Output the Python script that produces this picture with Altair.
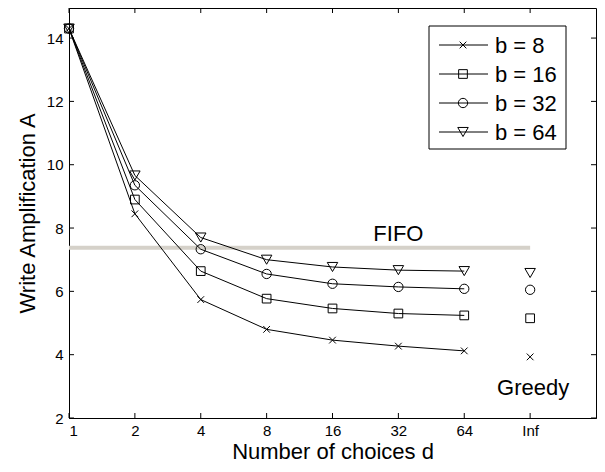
import json
import altair as alt
import pandas as pd

# ---- data ----
choices = ["1", "2", "4", "8", "16", "32", "64", "Inf"]
series_names = ["b = 8", "b = 16", "b = 32", "b = 64"]
b8 = [14.3, 8.45, 5.74, 4.80, 4.46, 4.27, 4.12, 3.93]
b16 = [14.3, 8.90, 6.64, 5.77, 5.46, 5.30, 5.24, 5.15]
b32 = [14.3, 9.35, 7.33, 6.55, 6.24, 6.14, 6.08, 6.05]
b64 = [14.3, 9.66, 7.70, 7.00, 6.77, 6.67, 6.64, 6.58]
all_series = [b8, b16, b32, b64]
fifo_level = 7.38
greedy_label_y = 2.72
y_ticks = [2, 4, 6, 8, 10, 12, 14]

FONT = "Liberation Sans"
W, H = 527, 410
cross_path = "M-1,-1L1,1M-1,1L1,-1"
shapes = [cross_path, "square", "circle", "triangle-down"]
sizes = [45, 76, 87, 110]

xs = alt.Scale(domain=[0, 8], nice=False, zero=False)
ys = alt.Scale(domain=[2, 14.95], nice=False, zero=False)
label_expr = json.dumps(choices) + "[datum.value]"
x_axis = alt.Axis(values=list(range(len(choices))), labelExpr=label_expr,
                  ticks=False, grid=False, labelPadding=5, titlePadding=3,
                  title="Number of choices d")
y_axis = alt.Axis(values=y_ticks, ticks=False, grid=False, labelPadding=6,
                  titlePadding=7, title="Write Amplification A")

def X(field):
    return alt.X(field, type="quantitative", scale=xs, axis=x_axis)

def Y(field):
    return alt.Y(field, type="quantitative", scale=ys, axis=y_axis)

layers = []

# FIFO reference line and label
fifo_df = pd.DataFrame({"x0": [0], "x1": [len(choices) - 1], "y": [fifo_level],
                        "xt": [5], "label": ["FIFO"]})
layers.append(alt.Chart(fifo_df).mark_rule(color="#d5d1c9", strokeWidth=4).encode(
    x=X("x0"), x2="x1", y=Y("y")))
layers.append(alt.Chart(fifo_df).mark_text(font=FONT, fontSize=22, baseline="alphabetic",
                                           dy=-7, color="black").encode(
    x=X("xt"), y=Y("y"), text="label:N"))

# Greedy label
greedy_df = pd.DataFrame({"x": [len(choices) - 1], "y": [greedy_label_y], "label": ["Greedy"]})
layers.append(alt.Chart(greedy_df).mark_text(font=FONT, fontSize=22, baseline="alphabetic",
                                             dx=3, color="black").encode(
    x=X("x"), y=Y("y"), text="label:N"))

# Series
for name, vals, shp, sz in zip(series_names, all_series, shapes, sizes):
    df = pd.DataFrame({"idx": list(range(len(choices))), "v": vals, "s": name})
    line_df = df[df["idx"] < len(choices) - 1]
    layers.append(alt.Chart(line_df).mark_line(color="black", strokeWidth=1).encode(
        x=X("idx"), y=Y("v")))
    layers.append(alt.Chart(df).mark_point(shape=shp, size=sz, filled=False, color="black",
                                           strokeWidth=1, opacity=1).encode(
        x=X("idx"), y=Y("v")))

# inward ticks
xt_df = pd.DataFrame({"idx": list(range(len(choices)))})
yt_df = pd.DataFrame({"v": y_ticks})
layers.append(alt.Chart(xt_df).mark_rule(color="black").encode(
    x=X("idx"), y=alt.value(H), y2=alt.value(H - 5)))
layers.append(alt.Chart(xt_df).mark_rule(color="black").encode(
    x=X("idx"), y=alt.value(0), y2=alt.value(5)))
layers.append(alt.Chart(yt_df).mark_rule(color="black").encode(
    y=Y("v"), x=alt.value(0), x2=alt.value(5)))
layers.append(alt.Chart(yt_df).mark_rule(color="black").encode(
    y=Y("v"), x=alt.value(W), x2=alt.value(W - 5)))

# manual legend
one = pd.DataFrame({"k": [0]})
layers.append(alt.Chart(one).mark_rect(fill="white", stroke="black", strokeWidth=1).encode(
    x=alt.value(360), x2=alt.value(497), y=alt.value(18), y2=alt.value(141)))
for i, (name, shp, sz) in enumerate(zip(series_names, shapes, sizes)):
    yy = 37 + 29 * i
    layers.append(alt.Chart(one).mark_rule(color="black", strokeWidth=1).encode(
        x=alt.value(370), x2=alt.value(419), y=alt.value(yy)))
    layers.append(alt.Chart(one).mark_point(shape=shp, size=sz, filled=False, color="black",
                                            strokeWidth=1, opacity=1).encode(
        x=alt.value(394), y=alt.value(yy)))
    layers.append(alt.Chart(one).mark_text(font=FONT, fontSize=22, align="left",
                                           baseline="middle", color="black").encode(
        x=alt.value(426), y=alt.value(yy + 1), text=alt.value(name)))

chart = alt.layer(*layers).properties(
    width=W, height=H,
    background="white",
    autosize=alt.AutoSizeParams(type="none"),
    padding={"left": 61, "top": 0, "right": 1, "bottom": 46},
).configure_view(stroke="black", strokeWidth=1).configure_axis(
    labelFont=FONT, titleFont=FONT, labelFontSize=15, titleFontSize=22,
    titleFontWeight="normal", labelColor="black", titleColor="black",
    domainColor="black", domainWidth=1,
)

chart.save("out.html", embed_options={"renderer": "svg", "actions": False})
